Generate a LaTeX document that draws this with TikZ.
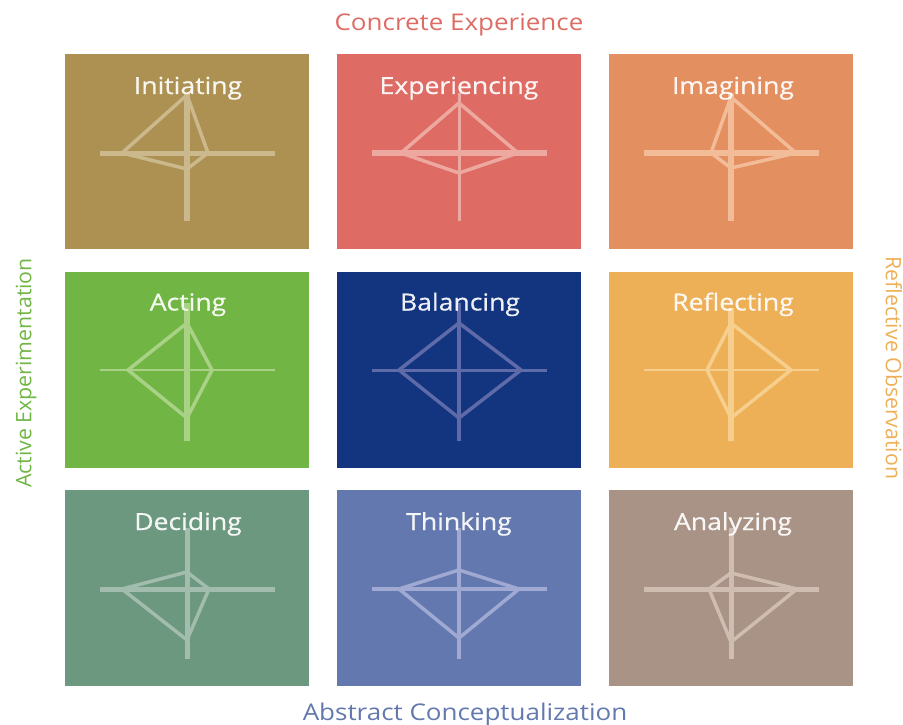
\documentclass[tikz,border=0pt]{standalone}
\usepackage{fontspec}
\setmainfont{Open Sans}
\newfontfamily\celllabfont[FakeBold=0.5]{Open Sans}
\definecolor{cInit}{HTML}{AC9152}\definecolor{lInit}{HTML}{CBB88C}
\definecolor{cExpe}{HTML}{DE6B64}\definecolor{lExpe}{HTML}{EDA89F}
\definecolor{cImag}{HTML}{E38F60}\definecolor{lImag}{HTML}{F2BC98}
\definecolor{cActi}{HTML}{71B644}\definecolor{lActi}{HTML}{A9D286}
\definecolor{cBala}{HTML}{133580}\definecolor{lBala}{HTML}{5F6BA8}
\definecolor{cRefl}{HTML}{EEB057}\definecolor{lRefl}{HTML}{F6CF8E}
\definecolor{cDeci}{HTML}{6C9880}\definecolor{lDeci}{HTML}{A2BDAD}
\definecolor{cThin}{HTML}{6278AE}\definecolor{lThin}{HTML}{A0A9D2}
\definecolor{cAnal}{HTML}{A99286}\definecolor{lAnal}{HTML}{CFBDB2}
\tikzset{
  cellbox/.style={minimum width=244pt,minimum height=195.5pt,inner sep=0pt,outer sep=0pt},
  celltext/.style={text=white,opacity=.92,font=\celllabfont\fontsize{23.5}{28}\selectfont,xscale=1.13,inner sep=0pt,anchor=base},
  axislabel/.style={font=\fontsize{23}{28}\selectfont,xscale=1.13,inner sep=0pt},
  sidelabel/.style={font=\fontsize{21.3}{26}\selectfont,inner sep=0pt},
  kite/.style={line width=3.5pt,line join=round},
}
\begin{document}
\begin{tikzpicture}[x=1pt,y=-1pt]
\useasboundingbox (0,0) rectangle (903,725);
\foreach \nm/\lab/\col/\cx/\cy/\tx/\hw/\vw/\pl/\pt/\pr/\pb/\vt/\vb in {
 Init/Initiating/Init/187/151.5/188/5/6/65/58/21/16/93/221,
 Expe/Experiencing/Expe/459/151.5/459/6/3/58/50/59/20/93/221,
 Imag/Imagining/Imag/731/151.5/733/6/6/20/56/65/15/93/221,
 Acti/Acting/Acti/187/370/188/2.5/6/59/47/25/48/303/441,
 Bala/Balancing/Bala/459/370/460/3/4/60/47/62/48/303/441,
 Refl/Reflecting/Refl/731/370/733/2.5/6/24/47/60/48/308/441,
 Deci/Deciding/Deci/187/588/188/5/5/65/17/22/51/528/659,
 Thin/Thinking/Thin/459/588/459/4/4/60/19/60/49/528/659,
 Anal/Analyzing/Anal/731/588/733/5/5/22/16/66/53/528/659}
{
  \node[cellbox,fill=c\col] (\nm) at (\cx+0,\cy) {};
  \pgfmathsetmacro{\hy}{\cy<200?153:(\cy<400?370:589)}
  \coordinate (\nm-W) at (\cx-87,\hy);
  \coordinate (\nm-E) at (\cx+88,\hy);
  \coordinate (\nm-N) at (\cx,\vt);
  \coordinate (\nm-S) at (\cx,\vb);
  \coordinate (\nm-a) at (\cx-\pl,\hy);
  \coordinate (\nm-b) at (\cx,\hy-\pt);
  \coordinate (\nm-c) at (\cx+\pr,\hy);
  \coordinate (\nm-d) at (\cx,\hy+\pb);
  \draw[l\col,kite] (\nm-a) -- (\nm-b) -- (\nm-c) -- (\nm-d) -- cycle;
  \draw[l\col,line width=\hw pt] (\nm-W) -- (\nm-E);
  \draw[l\col,line width=\vw pt] (\nm-N) -- (\nm-S);
  \pgfmathsetmacro{\by}{\cy<200?94:(\cy<400?310.5:530)}
  \node[celltext] (\nm-label) at (\tx,\by) {\lab};
}
\node[axislabel,text=cExpe] (concrete) at (459,25) {Concrete Experience};
\node[axislabel,text=cThin] (abstract) at (465,715) {Abstract Conceptualization};
\node[sidelabel,text=cActi,rotate=90] (active) at (26,373) {Active Experimentation};
\node[sidelabel,text=cRefl,rotate=-90] (reflective) at (894,368) {Reflective Observation};
\end{tikzpicture}
\end{document}
